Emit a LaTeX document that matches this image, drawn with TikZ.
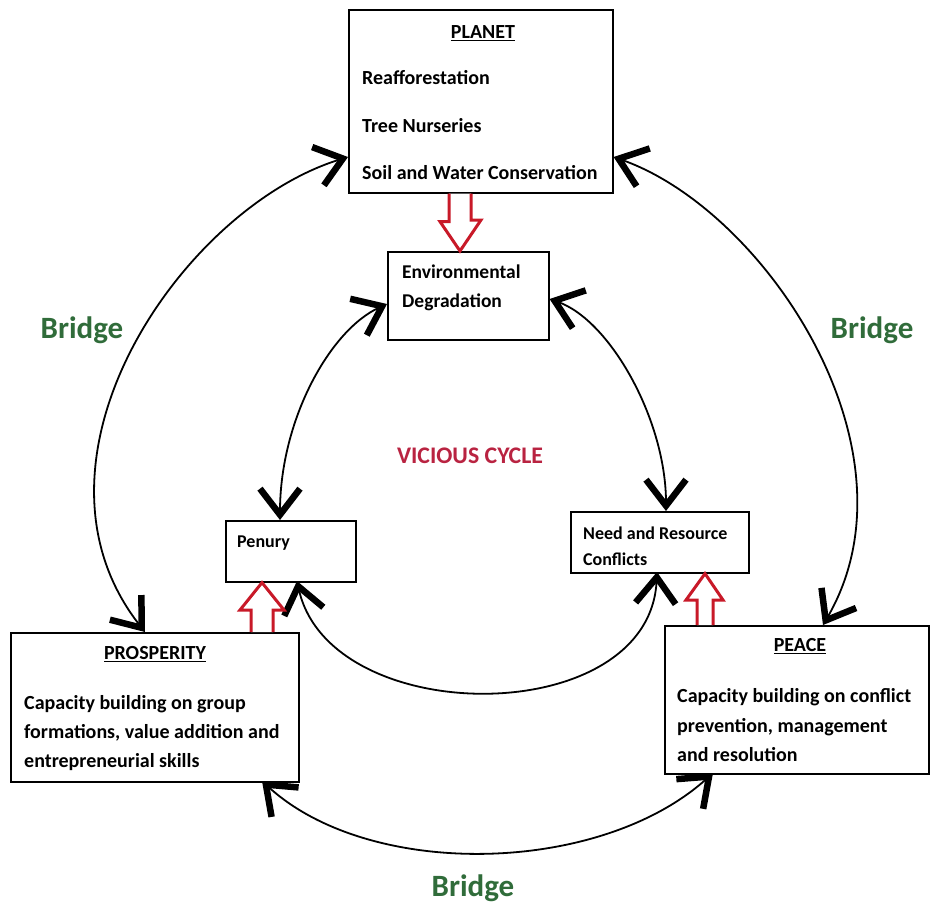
\documentclass[tikz,border=0pt]{standalone}
\usepackage{fontspec}
\setmainfont{Carlito}
\usetikzlibrary{arrows.meta}
\definecolor{bridgegreen}{RGB}{48,108,58}
\definecolor{viciousred}{RGB}{185,35,65}
\definecolor{hollowred}{RGB}{200,25,40}
\tikzset{
  box/.style={draw=black,line width=1.6pt,fill=white,inner sep=0pt,anchor=north west},
  txt/.style={inner sep=0pt,anchor=west,font=\fontsize{20}{23}\selectfont\bfseries},
  ttl/.style={inner sep=0pt,anchor=center,font=\fontsize{20}{23}\selectfont\bfseries},
  smalltxt/.style={inner sep=0pt,anchor=west,font=\fontsize{18}{21}\selectfont\bfseries},
  envtxt/.style={inner sep=0pt,anchor=west,font=\fontsize{19.5}{22}\selectfont\bfseries},
  bridgelbl/.style={inner sep=0pt,text=bridgegreen,font=\fontsize{31}{35}\selectfont\bfseries},
  barb/.tip={Straight Barb[length=26pt,width=40pt,line width=6.5pt]},
  link/.style={draw=black,line width=1.8pt,barb-barb},
  hollow/.style={draw=hollowred,line width=3pt,fill=white,line join=miter}
}
\begin{document}
\begin{tikzpicture}[x=1pt,y=-1pt]
\useasboundingbox (0,0) rectangle (930,911);

% boxes
\node[box,minimum width=264pt,minimum height=183pt] (planet) at (348,9) {};
\node[box,minimum width=161pt,minimum height=88pt] (env) at (387,251) {};
\node[box,minimum width=130pt,minimum height=61pt] (penury) at (225,520) {};
\node[box,minimum width=178pt,minimum height=61pt] (need) at (570,511) {};
\node[box,minimum width=288pt,minimum height=149pt] (prosp) at (10,632) {};
\node[box,minimum width=264pt,minimum height=148pt] (peace) at (664,625) {};

% texts
\node[ttl] (planetT) at (483,33) {\underline{PLANET}};
\node[txt] (p1) at (362,78) {Reafforestation};
\node[txt] (p2) at (362,126) {Tree Nurseries};
\node[txt] (p3) at (362,173) {Soil and Water Conservation};

\node[envtxt] (e1) at (402,272) {Environmental};
\node[envtxt] (e2) at (402,302) {Degradation};

\node[smalltxt] (pn) at (237,543) {Penury};

\node[smalltxt] (n1) at (583,533) {Need and Resource};
\node[smalltxt] (n2) at (583,559) {Conflicts};

\node[ttl] (prospT) at (155,654) {\underline{PROSPERITY}};
\node[txt] (r1) at (24,704) {Capacity building on group};
\node[txt] (r2) at (24,733) {formations, value addition and};
\node[txt] (r3) at (24,762) {entrepreneurial skills};

\node[ttl] (peaceT) at (800,646) {\underline{PEACE}};
\node[txt] (c1) at (677,697) {Capacity building on conflict};
\node[txt] (c2) at (677,727) {prevention, management};
\node[txt] (c3) at (677,755) {and resolution};

\node[inner sep=0pt,text=viciousred,font=\fontsize{23.8}{27}\selectfont\bfseries] (vc) at (470,456) {VICIOUS CYCLE};

\node[bridgelbl] (bl) at (82,330) {Bridge};
\node[bridgelbl] (br) at (872,330) {Bridge};
\node[bridgelbl] (bb) at (473,888) {Bridge};

% anchor coordinates on the boxes
\coordinate (planetL) at (planet.west |- 0,157);
\coordinate (planetR) at (planet.east |- 0,157);
\coordinate (prospTop) at (145,632);
\coordinate (peaceTop) at (823,625);
\coordinate (prospBot) at (262,781);
\coordinate (peaceBot) at (713,773);
\coordinate (envL) at (env.west |- 0,304);
\coordinate (envR) at (env.east |- 0,299);
\coordinate (penTop) at (280,520);
\coordinate (needTop) at (666,511);
\coordinate (penBot) at (297,581);
\coordinate (needBot) at (657,572);

% outer bridges
\draw[link] (planetL) .. controls (182,208) and (10,460) .. (prospTop);
\draw[link] (planetR) .. controls (765,210) and (925,450) .. (peaceTop);
\draw[link] (prospBot) .. controls (370,880) and (600,875) .. (peaceBot);

% vicious cycle
\draw[link] (envL) .. controls (330,330) and (280,420) .. (penTop);
\draw[link] (envR) .. controls (610,320) and (666,420) .. (needTop);
\draw[link] (penBot) .. controls (330,730) and (650,730) .. (needBot);

% hollow red arrows
\draw[hollow] (planet.south -| 449,0) -- ++(0,28) -- ++(-9,0) -- (env.north -| 460,0) -- (481,220) -- ++(-10,0) -- (planet.south -| 471,0);
\draw[hollow] (prosp.north -| 251,0) -- ++(0,-22) -- ++(-11,0) -- (penury.south -| 262,0) -- (284,610) -- ++(-11,0) -- (prosp.north -| 273,0);
\draw[hollow] (peace.north -| 697,0) -- ++(0,-25) -- ++(-11,0) -- (need.south -| 705,0) -- (723,600) -- ++(-10,0) -- (peace.north -| 713,0);
\end{tikzpicture}
\end{document}
